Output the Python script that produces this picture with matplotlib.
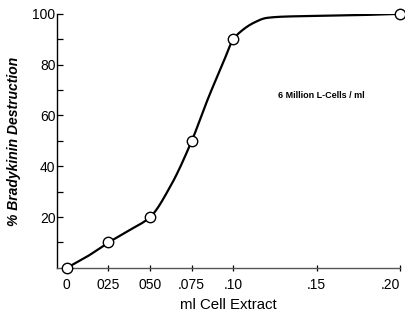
import numpy as np
import matplotlib
matplotlib.use('Agg')
import matplotlib.pyplot as plt

# measured points
extract_ml = [0, 0.025, 0.05, 0.075, 0.10, 0.20]
destruction_pct = [0, 10, 20, 50, 90, 100]

# hand-drawn curve
curve_x = [0, 0.0125, 0.025, 0.0375, 0.05, 0.0625, 0.075, 0.085, 0.094, 0.10,
           0.104, 0.112, 0.12, 0.13, 0.15, 0.175, 0.20]
curve_y = [0, 4.6, 10, 14.8, 20, 32.5, 50, 67, 81, 90,
           92.8, 96.4, 98.4, 98.9, 99.2, 99.5, 100]

xticks = [0, 0.025, 0.05, 0.075, 0.10, 0.15, 0.20]
xtick_labels = ['0', '025', '050', '.075', '.10', '.15', '.20']
yticks = [20, 40, 60, 80, 100]


def pchip(x, y, n=400):
    # monotone cubic, only used to draw a smooth pen line through the read points
    x = np.asarray(x, float)
    y = np.asarray(y, float)
    h = np.diff(x)
    d = np.diff(y) / h
    m = np.zeros_like(y)
    for i in range(1, len(y) - 1):
        if d[i - 1] * d[i] > 0:
            w1 = 2 * h[i] + h[i - 1]
            w2 = h[i] + 2 * h[i - 1]
            m[i] = (w1 + w2) / (w1 / d[i - 1] + w2 / d[i])
    m[0] = d[0]
    m[-1] = d[-1]
    xs = np.linspace(x[0], x[-1], n)
    k = np.clip(np.searchsorted(x, xs) - 1, 0, len(h) - 1)
    t = (xs - x[k]) / h[k]
    h00 = 2 * t**3 - 3 * t**2 + 1
    h10 = t**3 - 2 * t**2 + t
    h01 = -2 * t**3 + 3 * t**2
    h11 = t**3 - t**2
    ys = h00 * y[k] + h10 * h[k] * m[k] + h01 * y[k + 1] + h11 * h[k] * m[k + 1]
    return xs, ys


plt.rcParams['font.family'] = ['Liberation Sans Narrow', 'Liberation Sans', 'DejaVu Sans']

fig = plt.figure(figsize=(4.06, 3.22), dpi=100)
ax = fig.add_axes([0.140, 0.168, 0.845, 0.789])

sx, sy = pchip(curve_x, curve_y)
ax.plot(sx, sy, color='black', lw=1.6, zorder=2)
ax.plot(extract_ml, destruction_pct, 'o', ms=7.5, mfc='white', mec='black', mew=1.0,
        zorder=3, clip_on=False)

ax.set_xlim(-0.006, 0.20)
ax.set_ylim(0, 100)
ax.spines['top'].set_visible(False)
ax.spines['right'].set_visible(False)
ax.spines['left'].set_linewidth(1.0)
ax.spines['bottom'].set_linewidth(1.0)
ax.spines['bottom'].set_color('#555555')

ax.set_xticks(xticks)
ax.set_xticklabels(xtick_labels, fontsize=10)
ax.set_yticks(yticks)
ax.set_yticklabels([str(v) for v in yticks], fontsize=10)
ax.set_yticks([10, 30, 50, 70, 90], minor=True)
ax.tick_params(axis='y', which='both', direction='in', length=4, width=0.9, pad=1)
ax.tick_params(axis='x', direction='inout', length=5, width=0.9, pad=5)
ax.get_xticklabels()[-1].set_horizontalalignment('right')

ax.set_xlabel('ml Cell Extract', fontsize=10.8, labelpad=4)
ax.set_ylabel('% Bradykinin Destruction', fontsize=10, style='italic', fontweight='bold', labelpad=8)

ax.text(0.1265, 68, '6 Million L-Cells / ml', fontsize=6.5, fontweight='bold', ha='left', va='center')

fig.savefig('out.png', dpi=100)
